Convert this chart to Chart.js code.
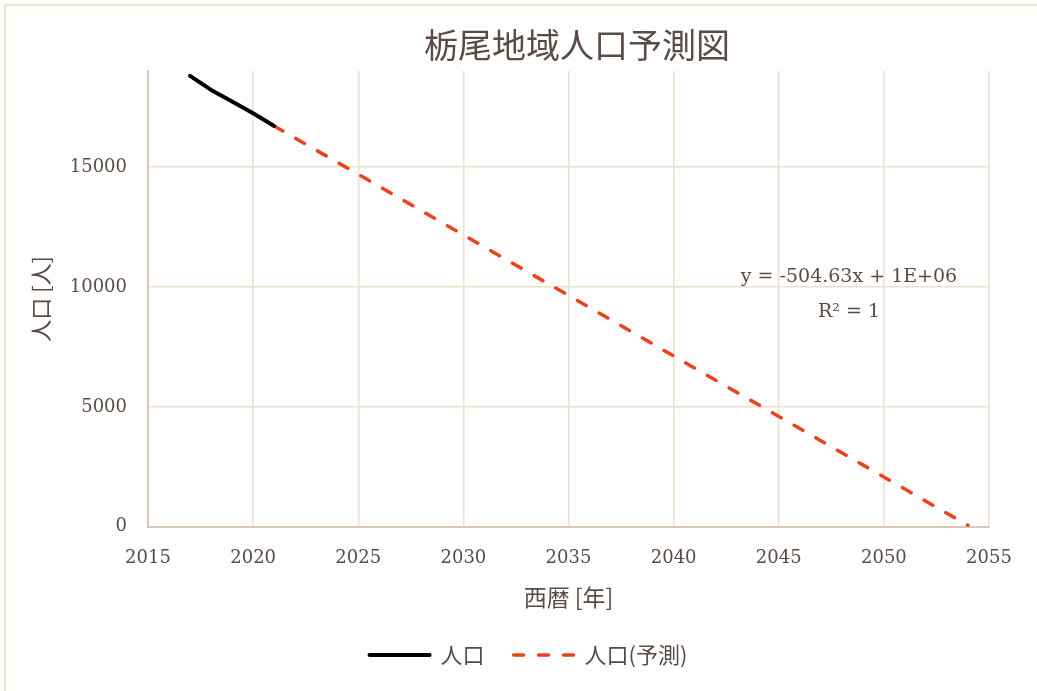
<!DOCTYPE html>
<html>
<head>
<meta charset="utf-8">
<script src="https://cdn.jsdelivr.net/npm/chart.js@4.4.0/dist/chart.umd.min.js"></script>
<style>
  html, body { margin: 0; padding: 0; background: #ffffff; }
  #wrap { width: 1037px; height: 691px; position: relative; }
</style>
</head>
<body>
<div id="wrap"><canvas id="c" width="1037" height="691"></canvas></div>
<script>
// ---- data ----
const chartTitle = '栃尾地域人口予測図';
const xAxisTitle = '西暦 [年]';
const yAxisTitle = '人口 [人]';
const seriesNames = ['人口', '人口(予測)'];

const actualYears = [2017, 2018, 2019, 2020, 2021];
const actualPopulation = [18800, 18210, 17730, 17240, 16710];

const forecastYears = [2021, 2022, 2023, 2024, 2025, 2026, 2027, 2028, 2029, 2030,
  2031, 2032, 2033, 2034, 2035, 2036, 2037, 2038, 2039, 2040,
  2041, 2042, 2043, 2044, 2045, 2046, 2047, 2048, 2049, 2050,
  2051, 2052, 2053, 2054];
const forecastPopulation = [16710, 16205, 15701, 15196, 14691, 14187, 13682, 13178, 12673, 12168,
  11664, 11159, 10655, 10150, 9645, 9141, 8636, 8131, 7627, 7122,
  6618, 6113, 5608, 5104, 4599, 4095, 3590, 3085, 2581, 2076,
  1572, 1067, 562, 58];

const xTicks = [2015, 2020, 2025, 2030, 2035, 2040, 2045, 2050, 2055];
const yTicks = [0, 5000, 10000, 15000];
const yAxisMax = 19000;
const trendLabel = ['y = -504.63x + 1E+06', 'R² = 1'];

// ---- styles ----
const textColor = '#5b4b45';
const gridColor = '#ecdfce';
const axisColor = '#d9c5ba';
const frameColor = '#efe4d4';
const serif = '"DejaVu Serif", "Noto Sans CJK JP", serif';
const cjk = '"Noto Sans CJK JP", "DejaVu Serif", sans-serif';
const legendShift = 34;

const lineStyles = [
  { color: '#000000', width: 4, dash: [] },
  { color: '#e8431b', width: 3.5, dash: [10, 15] }
];

const toPoints = (xs, ys) => xs.map((x, i) => ({ x: x, y: ys[i] }));

const decorations = {
  id: 'decorations',
  afterLayout(chart) {
    // legend sits a little right of the canvas centre
    if (chart.legend) {
      chart.legend.left += legendShift;
      chart.legend.right += legendShift;
    }
  },
  beforeDraw(chart) {
    const ctx = chart.ctx;
    ctx.save();
    ctx.fillStyle = '#ffffff';
    ctx.fillRect(0, 0, chart.width, chart.height);
    ctx.restore();
  },
  afterDraw(chart) {
    const ctx = chart.ctx;
    ctx.save();
    // outer frame
    ctx.strokeStyle = frameColor;
    ctx.lineWidth = 2;
    ctx.beginPath();
    ctx.moveTo(5, chart.height);
    ctx.lineTo(5, 5);
    ctx.lineTo(chart.width, 5);
    ctx.stroke();
    // title
    ctx.fillStyle = textColor;
    ctx.font = '34px ' + cjk;
    ctx.textAlign = 'center';
    ctx.textBaseline = 'middle';
    ctx.fillText(chartTitle, 577, 45);
    // trendline equation
    ctx.font = '19px ' + serif;
    ctx.fillText(trendLabel[0], 849, 277);
    ctx.fillText(trendLabel[1], 849, 312);
    ctx.restore();
  }
};

new Chart(document.getElementById('c'), {
  type: 'line',
  data: {
    datasets: [
      {
        label: seriesNames[0],
        data: toPoints(actualYears, actualPopulation),
        borderColor: lineStyles[0].color,
        backgroundColor: lineStyles[0].color,
        borderWidth: lineStyles[0].width,
        borderCapStyle: 'round',
        borderJoinStyle: 'round',
        pointRadius: 0,
        tension: 0
      },
      {
        label: seriesNames[1],
        data: toPoints(forecastYears, forecastPopulation),
        borderColor: lineStyles[1].color,
        backgroundColor: lineStyles[1].color,
        borderWidth: lineStyles[1].width,
        borderDash: lineStyles[1].dash,
        borderCapStyle: 'round',
        pointRadius: 0,
        tension: 0
      }
    ]
  },
  options: {
    responsive: false,
    animation: false,
    devicePixelRatio: 1,
    layout: { padding: { left: 0, right: 48, top: 71, bottom: 15 } },
    plugins: {
      title: { display: false },
      tooltip: { enabled: false },
      legend: {
        position: 'bottom',
        labels: {
          usePointStyle: true,
          pointStyle: 'line',
          pointStyleWidth: 60,
          boxHeight: 21,
          padding: 29,
          color: textColor,
          font: { family: cjk, size: 22 },
          generateLabels: (chart) => {
            const items = Chart.defaults.plugins.legend.labels.generateLabels(chart);
            items.forEach((item, i) => {
              const s = lineStyles[item.datasetIndex !== undefined ? item.datasetIndex : i];
              item.strokeStyle = s.color;
              item.fillStyle = s.color;
              item.lineWidth = s.width;
              item.lineDash = s.dash;
              item.lineCap = 'round';
              item.pointStyle = 'line';
            });
            return items;
          }
        }
      }
    },
    scales: {
      x: {
        type: 'linear',
        min: xTicks[0],
        max: xTicks[xTicks.length - 1],
        afterBuildTicks: (scale) => { scale.ticks = xTicks.map(v => ({ value: v })); },
        ticks: {
          color: textColor,
          font: { family: serif, size: 18 },
          padding: 21,
          maxRotation: 0,
          callback: (v) => String(v)
        },
        grid: { color: gridColor, lineWidth: 1.5, drawTicks: false },
        border: { color: axisColor, width: 2 },
        title: {
          display: true,
          text: xAxisTitle,
          color: textColor,
          font: { family: cjk, size: 23 },
          padding: { top: -7, bottom: 4 }
        }
      },
      y: {
        type: 'linear',
        min: 0,
        max: yAxisMax,
        afterBuildTicks: (scale) => { scale.ticks = yTicks.map(v => ({ value: v })); },
        afterFit: (scale) => { scale.width = 148; },
        ticks: {
          color: textColor,
          font: { family: serif, size: 18 },
          padding: 21,
          callback: (v) => String(v)
        },
        grid: { color: gridColor, lineWidth: 1.5, drawTicks: false },
        border: { color: axisColor, width: 2 },
        title: {
          display: true,
          text: yAxisTitle,
          color: textColor,
          font: { family: cjk, size: 22 },
          padding: { top: 27, bottom: 0 }
        }
      }
    }
  },
  plugins: [decorations]
});
</script>
</body>
</html>
